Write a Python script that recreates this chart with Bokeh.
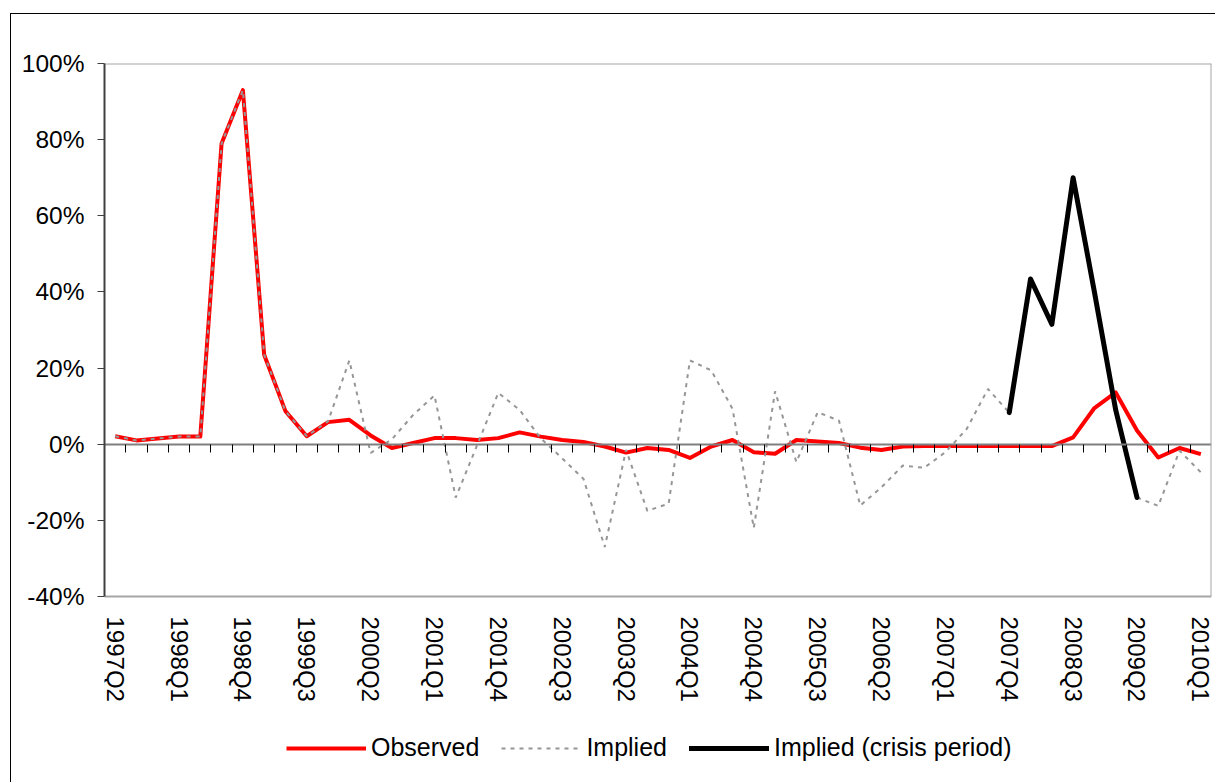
import math
from bokeh.plotting import figure
from bokeh.models import (ColumnDataSource, Range1d, LinearAxis, FixedTicker,
                          Legend, LegendItem, PrintfTickFormatter)
from bokeh.embed import file_html
from bokeh.resources import INLINE

# ---- data -------------------------------------------------------------
quarters = [f"{y}Q{q}" for y in range(1997, 2011) for q in range(1, 5)][1:53]  # 1997Q2 .. 2010Q1

observed = [2.1, 1.0, 1.5, 2.0, 2.0, 79.0, 93.0, 23.5, 8.7, 2.1,
            5.8, 6.4, 2.3, -1.0, 0.3, 1.6, 1.6, 1.1, 1.6, 3.1,
            2.0, 1.1, 0.6, -0.6, -2.2, -1.0, -1.5, -3.6, -0.6, 1.1,
            -2.1, -2.5, 1.1, 0.7, 0.3, -0.9, -1.5, -0.6, -0.5, -0.5,
            -0.5, -0.5, -0.5, -0.5, -0.5, 1.8, 9.5, 13.6, 3.6, -3.5,
            -1.0, -2.6]

implied = [2.1, 1.0, 1.5, 2.0, 2.0, 79.0, 93.0, 23.5, 8.7, 2.1,
           6.0, 22.0, -2.3, 1.3, 7.7, 12.8, -14.0, -0.3, 13.5, 9.0,
           1.5, -3.7, -9.1, -27.0, -1.5, -17.5, -15.6, 22.0, 19.4, 9.3,
           -22.0, 13.9, -4.7, 8.4, 6.2, -16.1, -11.3, -5.6, -6.2, -2.1,
           4.0, 14.5, 8.3, 43.4, 31.5, 70.0, 40.0, 9.0, -14.0, -16.2,
           -1.7, -7.4]

crisis_quarters = ["2007Q4", "2008Q1", "2008Q2", "2008Q3", "2008Q4", "2009Q1", "2009Q2"]
crisis = [8.3, 43.4, 31.5, 70.0, 40.0, 9.0, -14.0]

label_quarters = ["1997Q2", "1998Q1", "1998Q4", "1999Q3", "2000Q2", "2001Q1",
                  "2001Q4", "2002Q3", "2003Q2", "2004Q1", "2004Q4", "2005Q3",
                  "2006Q2", "2007Q1", "2007Q4", "2008Q3", "2009Q2", "2010Q1"]
y_ticks = [-40, -20, 0, 20, 40, 60, 80, 100]
Y_MIN, Y_MAX = -40, 100

# ---- sources ----------------------------------------------------------
idx = list(range(len(quarters)))
X_MIN, X_MAX = -0.5, len(quarters) - 0.5
main_src = ColumnDataSource(dict(x=idx, obs=observed, imp=implied))
crisis_src = ColumnDataSource(dict(x=[quarters.index(q) for q in crisis_quarters], y=crisis))

FONT = "Liberation Sans"
BORDER = "#a6a6a6"

# the frame extends down to the bottom of the canvas so the legend can sit
# inside it; the plot area itself (-40%..100%) is outlined with fixed axes
PLOT_H = 533.0                       # px between -40% and 100%
BELOW_PX = 187.0                     # px from -40% line to canvas bottom
y_low = Y_MIN - BELOW_PX * (Y_MAX - Y_MIN) / PLOT_H

p = figure(width=1205, height=769, output_backend="svg", toolbar_location=None,
           x_range=Range1d(X_MIN, X_MAX), y_range=Range1d(y_low, Y_MAX),
           x_axis_location=None, y_axis_location="left",
           min_border_left=93, min_border_right=5, min_border_top=49, min_border_bottom=0)
p.styles = {"margin-left": "10px", "margin-top": "13px",
            "border-top": "1px solid #000000", "border-left": "1px solid #000000"}
p.grid.visible = False
p.outline_line_color = None
p.background_fill_color = "white"
p.border_fill_color = "white"

# y axis
ya = p.yaxis[0]
ya.ticker = FixedTicker(ticks=y_ticks)
ya.bounds = (Y_MIN, Y_MAX)
ya.formatter = PrintfTickFormatter(format="%d%%")
ya.major_label_text_font = FONT
ya.major_label_text_font_size = "24.5px"
ya.major_label_text_color = "black"
ya.axis_line_color = "#404040"
ya.axis_line_width = 2
ya.major_tick_line_color = "#404040"
ya.major_tick_out = 7
ya.major_tick_in = 0
ya.minor_tick_out = 0
ya.minor_tick_in = 0
ya.major_label_standoff = 13

# plot-area border: top and right
top_axis = LinearAxis(fixed_location=Y_MAX, ticker=FixedTicker(ticks=[]),
                      bounds=(X_MIN, X_MAX), axis_line_color=BORDER, axis_line_width=2,
                      major_tick_out=0, major_tick_in=0, minor_tick_out=0, minor_tick_in=0)
p.add_layout(top_axis, "above")
right_axis = LinearAxis(fixed_location=X_MAX, ticker=FixedTicker(ticks=[]),
                        bounds=(Y_MIN, Y_MAX), axis_line_color=BORDER, axis_line_width=2,
                        major_tick_out=0, major_tick_in=0, minor_tick_out=0, minor_tick_in=0)
p.add_layout(right_axis, "right")

# zero line with category ticks (no labels)
zero_ticks = [i + 0.5 for i in idx[:-1]]
zero_axis = LinearAxis(fixed_location=0,
                       ticker=FixedTicker(ticks=zero_ticks),
                       major_label_overrides={t: "" for t in zero_ticks},
                       major_label_standoff=0, bounds=(X_MIN, X_MAX),
                       axis_line_color="#7f7f7f", axis_line_width=2,
                       major_tick_line_color="black", major_tick_out=8, major_tick_in=0,
                       minor_tick_out=0, minor_tick_in=0)
p.add_layout(zero_axis, "below")

# bottom border of the plot area with the category labels
lab_pos = [quarters.index(q) for q in label_quarters]
label_axis = LinearAxis(fixed_location=Y_MIN, bounds=(X_MIN, X_MAX),
                        ticker=FixedTicker(ticks=lab_pos),
                        major_label_overrides={pos: q for pos, q in zip(lab_pos, label_quarters)},
                        major_label_orientation=-math.pi / 2,
                        major_label_text_font=FONT, major_label_text_font_size="24px",
                        major_label_text_color="black",
                        axis_line_color=BORDER, axis_line_width=2, major_tick_line_color=None,
                        major_tick_out=0, major_tick_in=0, minor_tick_out=0, minor_tick_in=0,
                        major_label_standoff=20)
p.add_layout(label_axis, "below")

# series
r_obs = p.line("x", "obs", source=main_src, line_color="#ff0000", line_width=4,
               line_join="round")
r_imp = p.line("x", "imp", source=main_src, line_color="#969696", line_width=2,
               line_dash="4 5")
r_cri = p.line("x", "y", source=crisis_src, line_color="black", line_width=5,
               line_join="round", line_cap="round")

legend = Legend(items=[LegendItem(label="Observed", renderers=[r_obs]),
                       LegendItem(label="Implied", renderers=[r_imp]),
                       LegendItem(label="Implied (crisis period)", renderers=[r_cri])],
                orientation="horizontal", location=(182, 21),
                glyph_width=80, glyph_height=20, label_standoff=5, spacing=22,
                padding=0, margin=0, background_fill_alpha=0, border_line_color=None,
                label_text_font=FONT, label_text_font_size="25px", label_text_color="black")
p.add_layout(legend)

open("out.html", "w").write(file_html(p, INLINE))
